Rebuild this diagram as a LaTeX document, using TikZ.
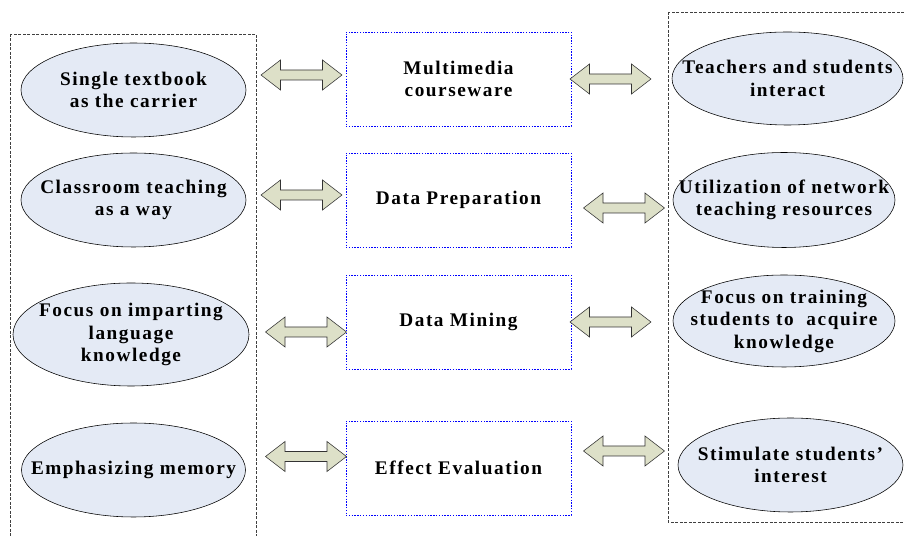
\documentclass[tikz,border=0pt]{standalone}
\usepackage{fontspec}
\setmainfont{Liberation Serif}[LetterSpace=8]
\usetikzlibrary{shapes.geometric}
\definecolor{ovalblue}{RGB}{228,234,245}
\definecolor{arrowgreen}{RGB}{221,224,200}
\newcommand\pxu{0.025cm}

\begin{document}
\begin{tikzpicture}[x=\pxu,y=-\pxu,
  oval/.style={ellipse,draw,fill=ovalblue,inner sep=0pt},
  txt/.style={align=center,font=\bfseries\fontsize{13.7}{16}\selectfont},
  midbox/.style={draw=blue,dash pattern=on 1pt off 1pt,minimum width=225*\pxu,minimum height=94*\pxu,inner sep=0pt},
  outerbox/.style={draw=black!75,dash pattern=on 2pt off 1.2pt},
  pics/dblarr/.style={code={
    \filldraw[draw=black!80,fill=arrowgreen] (-40.5,0) -- (-21,-15) -- (-21,-5) -- (21,-5) -- (21,-15)
      -- (40.5,0) -- (21,15) -- (21,5) -- (-21,5) -- (-21,15) -- cycle;}}]
\useasboundingbox (0,0) rectangle (904,536);
\clip (0,0) rectangle (904,536);

\draw[outerbox] (10,34) rectangle (256,545);
\draw[outerbox] (668,12) rectangle (915,522);

\node[oval,minimum width=225*\pxu,minimum height=94*\pxu] (l1) at (133.5,90) {};
\node[oval,minimum width=225*\pxu,minimum height=94*\pxu] (l2) at (133.5,200) {};
\node[oval,minimum width=236*\pxu,minimum height=103*\pxu] (l3) at (131,334.5) {};
\node[oval,minimum width=224*\pxu,minimum height=94*\pxu] (l4) at (133.5,470) {};
\node[txt] (l1t) at (l1) {Single textbook\\as the carrier};
\node[txt] (l2t) at (l2) {Classroom teaching\\as a way};
\node[txt] (l3t) at (l3) {Focus on imparting\\language\\knowledge};
\node[txt] (l4t) at (l4) {Emphasizing memory};

\node[midbox] (m1) at (458.5,79) {};
\node[midbox] (m2) at (458.5,200) {};
\node[midbox] (m3) at (458.5,322) {};
\node[midbox] (m4) at (458.5,468) {};
\node[txt] (m1t) at (m1) {Multimedia\\courseware};
\node[txt] (m2t) at (m2) {Data Preparation};
\node[txt] (m3t) at (m3) {Data Mining};
\node[txt] (m4t) at (m4) {Effect Evaluation};

\node[oval,minimum width=231*\pxu,minimum height=93*\pxu] (r1) at (787.5,78.5) {};
\node[oval,minimum width=222*\pxu,minimum height=95*\pxu] (r2) at (784,200) {};
\node[oval,minimum width=222*\pxu,minimum height=92*\pxu] (r3) at (784,321) {};
\node[oval,minimum width=225*\pxu,minimum height=94*\pxu] (r4) at (790.5,465) {};
\node[txt] (r1t) at (r1) {Teachers and students\\interact};
\node[txt] (r2t) at (r2) {Utilization of network\\teaching resources};
\node[txt] (r3t) at (r3) {Focus on training\\students to~ acquire\\knowledge};
\node[txt] (r4t) at (r4) {Stimulate students'\\interest};

\pic (a1) at (301.5,75) {dblarr};
\pic (a2) at (301.5,195) {dblarr};
\pic (a3) at (306,332) {dblarr};
\pic (a4) at (306,456.5) {dblarr};
\pic (b1) at (610.5,79) {dblarr};
\pic (b2) at (624,208) {dblarr};
\pic (b3) at (610.5,322) {dblarr};
\pic (b4) at (624,451) {dblarr};
\end{tikzpicture}
\end{document}
